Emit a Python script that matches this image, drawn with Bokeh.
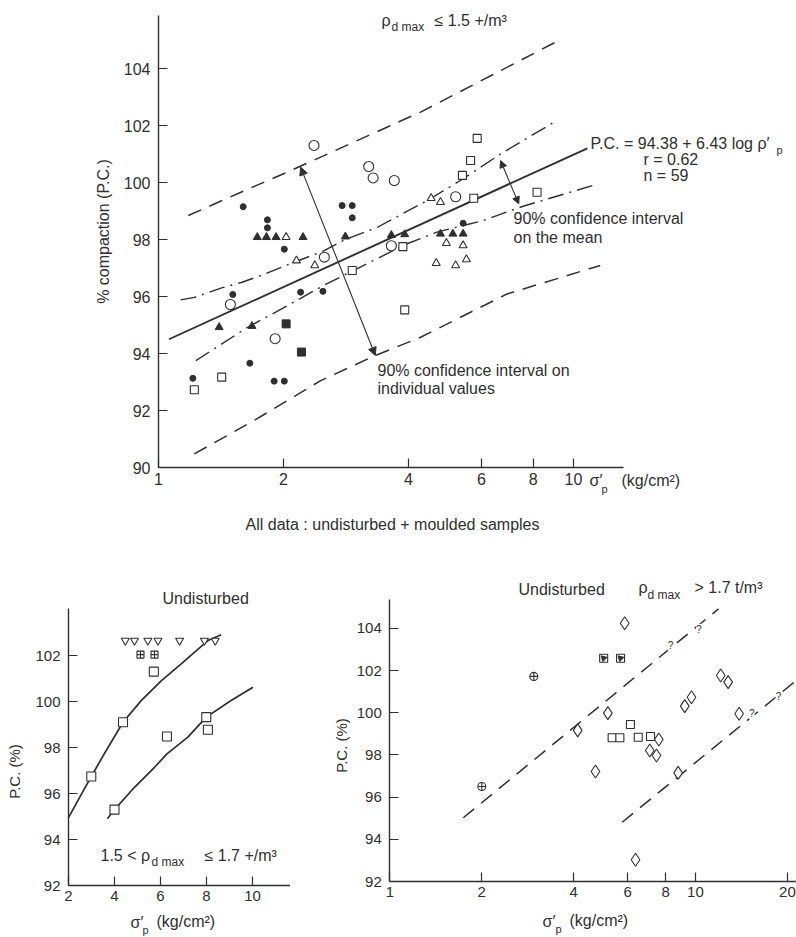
import math
from bokeh.plotting import figure
from bokeh.layouts import column, row
from bokeh.models import Range1d, FixedTicker, NumeralTickFormatter, Label, Arrow, NormalHead
from bokeh.embed import file_html
from bokeh.resources import INLINE

FONT = "Liberation Sans"
INK = "#2f2f2f"

# ------------------------------------------------------------------ data
# --- top chart: all data (undisturbed + moulded)
top_x_ticks = [1, 2, 4, 6, 8, 10]
top_y_ticks = [90, 92, 94, 96, 98, 100, 102, 104]

top_fcirc_x = [1.60, 1.83, 1.83, 2.01, 2.77, 2.93, 2.93, 1.51, 2.20, 2.49, 1.66, 1.21, 1.90, 2.01, 5.42]
top_fcirc_y = [99.15, 98.69, 98.41, 97.66, 99.19, 99.19, 98.76, 96.07, 96.15, 96.18, 93.66, 93.13, 93.03, 93.03, 98.57]
top_ftri_x = [1.73, 1.82, 1.92, 2.23, 2.82, 1.40, 1.68, 3.64, 3.92, 4.78, 5.12, 5.42]
top_ftri_y = [98.08, 98.08, 98.08, 98.08, 98.10, 94.92, 94.96, 98.15, 98.18, 98.20, 98.20, 98.20]
top_otri_x = [2.03, 2.15, 2.38, 4.54, 4.78, 4.94, 5.42, 4.67, 5.20, 5.52]
top_otri_y = [98.08, 97.26, 97.09, 99.45, 99.31, 97.87, 97.79, 97.17, 97.09, 97.30]
top_ocirc_x = [2.51, 1.49, 1.91, 5.20, 3.21, 3.29, 3.70, 3.64, 2.37]
top_ocirc_y = [97.38, 95.72, 94.52, 99.50, 100.56, 100.16, 100.07, 97.78, 101.30]
top_osq_x = [2.93, 1.42, 1.22, 5.86, 5.65, 5.40, 5.75, 8.17, 3.88, 3.92]
top_osq_y = [96.91, 93.17, 92.73, 101.55, 100.77, 100.25, 99.45, 99.66, 97.75, 95.53]
top_fsq_x = [2.03, 2.21]
top_fsq_y = [95.04, 94.05]

top_reg_x = [1.06, 10.8]
top_reg_y = [94.50, 101.20]
top_mean_up_x = [1.13, 1.22, 1.42, 1.59, 1.79, 2.08, 2.50, 2.80, 3.37, 4.52, 5.34, 6.67, 9.13]
top_mean_up_y = [95.88, 95.97, 96.30, 96.50, 96.77, 97.15, 97.60, 97.98, 98.43, 99.43, 100.07, 101.00, 102.18]
top_mean_lo_x = [1.23, 1.64, 2.00, 2.50, 3.97, 4.69, 6.07, 7.50, 11.1]
top_mean_lo_y = [93.75, 94.92, 95.60, 96.39, 97.85, 98.26, 98.67, 99.15, 99.89]
top_ind_up_x = [1.18, 1.58, 2.04, 4.28, 9.38]
top_ind_up_y = [98.84, 99.66, 100.36, 102.47, 105.04]
top_ind_lo_x = [1.22, 1.70, 2.46, 3.33, 4.28, 6.92, 11.6]
top_ind_lo_y = [90.48, 91.65, 93.05, 93.93, 94.57, 96.09, 97.09]

# --- bottom-left: undisturbed, 1.5 < rho_d max <= 1.7
bl_x_ticks = [2, 4, 6, 8, 10]
bl_y_ticks = [92, 94, 96, 98, 100, 102]
bl_itri_x = [4.47, 4.87, 5.45, 5.89, 6.83, 7.91, 8.38]
bl_itri_y = [102.65, 102.65, 102.65, 102.65, 102.65, 102.65, 102.65]
bl_sqx_x = [5.13, 5.74]
bl_sqx_y = [102.04, 102.04]
bl_sq_x = [5.71, 4.37, 2.99, 6.28, 7.99, 8.06, 4.00]
bl_sq_y = [101.30, 99.10, 96.74, 98.48, 99.32, 98.77, 95.30]
bl_c1_x = [2.0, 2.55, 2.99, 3.57, 4.37, 5.16, 6.03, 6.90, 8.06, 8.64]
bl_c1_y = [94.95, 95.95, 96.74, 97.75, 99.10, 100.04, 100.90, 101.64, 102.65, 102.90]
bl_c2_x = [3.69, 4.00, 4.87, 5.74, 6.28, 7.19, 7.99, 9.07, 10.02]
bl_c2_y = [94.90, 95.30, 96.27, 97.14, 97.72, 98.45, 99.32, 100.04, 100.62]

# --- bottom-right: undisturbed, rho_d max > 1.7
br_x_ticks = [1, 2, 4, 6, 8, 10, 20]
br_y_ticks = [92, 94, 96, 98, 100, 102, 104]
br_oplus_x = [2.96, 2.00]
br_oplus_y = [101.72, 96.50]
br_half_x = [5.01, 5.69]
br_half_y = [102.58, 102.58]
br_dia_x = [5.87, 4.12, 5.17, 4.71, 6.37, 7.09, 7.46, 7.59, 8.78, 9.23, 9.71, 12.1, 12.8, 13.9]
br_dia_y = [104.24, 99.16, 99.98, 97.21, 93.03, 98.21, 97.97, 98.73, 97.15, 100.31, 100.73, 101.76, 101.45, 99.95]
br_sq_x = [6.13, 5.34, 5.66, 6.50, 7.13]
br_sq_y = [99.44, 98.81, 98.81, 98.84, 98.87]
br_up_x = [1.74, 11.9]
br_up_y = [95.02, 104.92]
br_lo_x = [5.76, 21.4]
br_lo_y = [94.81, 101.53]


# ------------------------------------------------------------------ helpers
def base_fig(w, h, xr, yr, xtype, xb, yb, xloc, yloc, xticks, yticks, tick_size):
    """Frame fills the whole figure; axes are pinned inside it with fixed_location/bounds."""
    p = figure(width=w, height=h, x_range=xr, y_range=yr, x_axis_type=xtype,
               toolbar_location=None, output_backend="svg",
               min_border_left=0, min_border_right=0,
               min_border_top=0, min_border_bottom=0)
    p.title.visible = False
    p.grid.visible = False
    p.outline_line_color = None
    p.background_fill_color = "white"
    p.border_fill_color = "white"
    for ax in p.axis:
        ax.axis_line_color = INK
        ax.axis_line_width = 1.4
        ax.major_tick_line_color = INK
        ax.major_tick_line_width = 1.2
        ax.major_tick_in = 9
        ax.major_tick_out = 0
        ax.minor_tick_in = 0
        ax.minor_tick_out = 0
        ax.major_label_text_font = FONT
        ax.major_label_text_font_size = tick_size
        ax.major_label_text_color = INK
        ax.formatter = NumeralTickFormatter(format="0")
    p.xaxis.fixed_location = xloc
    p.yaxis.fixed_location = yloc
    p.xaxis.bounds = xb
    p.yaxis.bounds = yb
    p.xaxis.ticker = FixedTicker(ticks=xticks)
    p.yaxis.ticker = FixedTicker(ticks=yticks)
    p.xaxis.major_label_standoff = 5
    p.yaxis.major_label_standoff = 8
    return p


def lab(p, h, text, cx, cy, size=16, align="left", angle=0.0, bg=None):
    """Label at figure-local pixel (cx, cy) measured from the top-left corner."""
    p.add_layout(Label(x=cx, y=h - cy, x_units="screen", y_units="screen",
                       text=text, text_font=FONT, text_font_size=f"{size}px",
                       text_color=INK, text_align=align, text_baseline="middle",
                       angle=angle, background_fill_color=bg))


# ------------------------------------------------------------------ top chart
TW, TH = 796, 540
T_L, T_R, T_T, T_B = 158, 623, 15, 467
TDEC, TPY = 415.0, 28.5
top = base_fig(TW, TH,
               Range1d(10 ** (-T_L / TDEC), 10 ** ((TW - T_L) / TDEC)),
               Range1d(90 - (TH - T_B) / TPY, 90 + T_B / TPY),
               "log",
               (1, 10 ** ((T_R - T_L) / TDEC)), (90, 90 + (T_B - T_T) / TPY),
               90, 1, top_x_ticks, top_y_ticks, "16px")

top.line(top_ind_up_x, top_ind_up_y, line_color=INK, line_width=1.5, line_dash="14 9")
top.line(top_ind_lo_x, top_ind_lo_y, line_color=INK, line_width=1.5, line_dash="14 9")
top.line(top_mean_up_x, top_mean_up_y, line_color=INK, line_width=1.4, line_dash="16 6 2 6")
top.line(top_mean_lo_x, top_mean_lo_y, line_color=INK, line_width=1.4, line_dash="16 6 2 6")
top.line(top_reg_x, top_reg_y, line_color=INK, line_width=1.9)

top.add_layout(Arrow(x_start=2.20, y_start=100.54, x_end=3.33, y_end=93.93,
                     start=NormalHead(size=8, fill_color=INK, line_color=INK),
                     end=NormalHead(size=8, fill_color=INK, line_color=INK),
                     line_color=INK, line_width=1.1))
top.add_layout(Arrow(x_start=6.67, y_start=100.77, x_end=7.38, y_end=99.25,
                     start=NormalHead(size=7, fill_color=INK, line_color=INK),
                     end=NormalHead(size=7, fill_color=INK, line_color=INK),
                     line_color=INK, line_width=1.1))

top.scatter(top_fcirc_x, top_fcirc_y, marker="circle", size=6, fill_color=INK, line_color=INK)
top.scatter(top_ftri_x, top_ftri_y, marker="triangle", size=8, fill_color=INK, line_color=INK)
top.scatter(top_otri_x, top_otri_y, marker="triangle", size=8, fill_color="white", line_color=INK, line_width=1.1)
top.scatter(top_ocirc_x, top_ocirc_y, marker="circle", size=10, fill_color="white", line_color=INK, line_width=1.1)
top.scatter(top_osq_x, top_osq_y, marker="square", size=8, fill_color="white", line_color=INK, line_width=1.1)
top.scatter(top_fsq_x, top_fsq_y, marker="square", size=8, fill_color=INK, line_color=INK)

lab(top, TH, "\u03c1", 381, 20)
lab(top, TH, "d max", 391, 26, size=12)
lab(top, TH, "\u2264 1.5 +/m\u00b3", 434, 20)
lab(top, TH, "P.C. = 94.38 + 6.43 log \u03c1\u2032", 590, 143)
lab(top, TH, "p", 776, 149, size=11)
lab(top, TH, "r = 0.62", 643, 159)
lab(top, TH, "n = 59", 643, 175)
lab(top, TH, "90% confidence interval", 513, 218)
lab(top, TH, "on the mean", 513, 237)
lab(top, TH, "90% confidence interval on", 377, 370)
lab(top, TH, "individual values", 377, 388)
lab(top, TH, "% compaction (P.C.)", 103, 231, size=16, align="center", angle=math.pi / 2)
lab(top, TH, "\u03c3\u2032", 589, 480)
lab(top, TH, "p", 601, 488, size=11)
lab(top, TH, "(kg/cm\u00b2)", 621, 480)
lab(top, TH, "All data : undisturbed + moulded samples", 392, 524, size=16, align="center")

# ------------------------------------------------------------------ bottom-left chart
LW, LH = 290, 397
L_L, L_R, L_T, L_B = 68, 290, 68, 345   # figure-local pixels
LPX = 23.0
bl = base_fig(LW, LH,
              Range1d(2 - L_L / LPX, 2 + (LW - L_L) / LPX),
              Range1d(92 - (LH - L_B) / LPX, 92 + L_B / LPX),
              "linear",
              (2, 2 + (L_R - L_L) / LPX), (92, 92 + (L_B - L_T) / LPX),
              92, 2, bl_x_ticks, bl_y_ticks, "15px")

bl.line(bl_c1_x, bl_c1_y, line_color=INK, line_width=1.7)
bl.line(bl_c2_x, bl_c2_y, line_color=INK, line_width=1.7)
bl.scatter(bl_itri_x, bl_itri_y, marker="inverted_triangle", size=8, fill_color="white", line_color=INK, line_width=1.1)
bl.scatter(bl_sqx_x, bl_sqx_y, marker="square_cross", size=7, fill_color="white", line_color=INK, line_width=1.1)
bl.scatter(bl_sq_x, bl_sq_y, marker="square", size=9, fill_color="white", line_color=INK, line_width=1.1)

lab(bl, LH, "Undisturbed", 162, 58)
lab(bl, LH, "1.5 < \u03c1", 100, 315)
lab(bl, LH, "d max", 151, 321, size=12)
lab(bl, LH, "\u2264 1.7 +/m\u00b3", 204, 315)
lab(bl, LH, "P.C. (%)", 14, 231, size=15, align="center", angle=math.pi / 2)
lab(bl, LH, "\u03c3\u2032", 130, 382)
lab(bl, LH, "p", 142, 389, size=11)
lab(bl, LH, "(kg/cm\u00b2)", 156, 381)

# ------------------------------------------------------------------ bottom-right chart
RW, RH = 506, 397
R_L, R_T, R_B = 99.3, 59, 341   # figure-local pixels
RDEC, RPY = 305.6, 21.1
br = base_fig(RW, RH,
              Range1d(10 ** (-R_L / RDEC), 10 ** ((RW - R_L) / RDEC)),
              Range1d(92 - (RH - R_B) / RPY, 92 + R_B / RPY),
              "log",
              (1, 10 ** ((RW - R_L) / RDEC)), (92, 92 + (R_B - R_T) / RPY),
              92, 1, br_x_ticks, br_y_ticks, "15px")

br.line(br_up_x, br_up_y, line_color=INK, line_width=1.5, line_dash="14 9")
br.line(br_lo_x, br_lo_y, line_color=INK, line_width=1.5, line_dash="14 9")
br.scatter(br_oplus_x, br_oplus_y, marker="circle_cross", size=8, fill_color="white", line_color=INK, line_width=1.1)
br.scatter(br_half_x, br_half_y, marker="square", size=8, fill_color="white", line_color=INK, line_width=1.1)
br.scatter(br_half_x, br_half_y, marker="triangle", size=6, angle=math.pi / 4, fill_color=INK, line_color=INK)
br.scatter(br_dia_x, br_dia_y, marker="diamond", size=13, fill_color="white", line_color=INK, line_width=1.1)
br.scatter(br_sq_x, br_sq_y, marker="square", size=8, fill_color="white", line_color=INK, line_width=1.1)

for qx, qy in [(8.29, 103.2), (10.26, 103.95), (15.3, 99.95), (18.7, 100.75)]:
    br.add_layout(Label(x=qx, y=qy, text="?", text_font=FONT, text_font_size="10px",
                        text_color=INK, text_align="center", text_baseline="middle",
                        background_fill_color="white"))

lab(br, RH, "Undisturbed", 228, 49)
lab(br, RH, "\u03c1", 348, 47)
lab(br, RH, "d max", 357, 54, size=12)
lab(br, RH, "> 1.7 t/m\u00b3", 404, 47)
lab(br, RH, "P.C. (%)", 51, 205, size=15, align="center", angle=math.pi / 2)
lab(br, RH, "\u03c3\u2032", 252, 381)
lab(br, RH, "p", 265, 388, size=11)
lab(br, RH, "(kg/cm\u00b2)", 279, 380)

layout = column(top, row(bl, br, spacing=0), spacing=0)
open("out.html", "w").write(file_html(layout, INLINE))
